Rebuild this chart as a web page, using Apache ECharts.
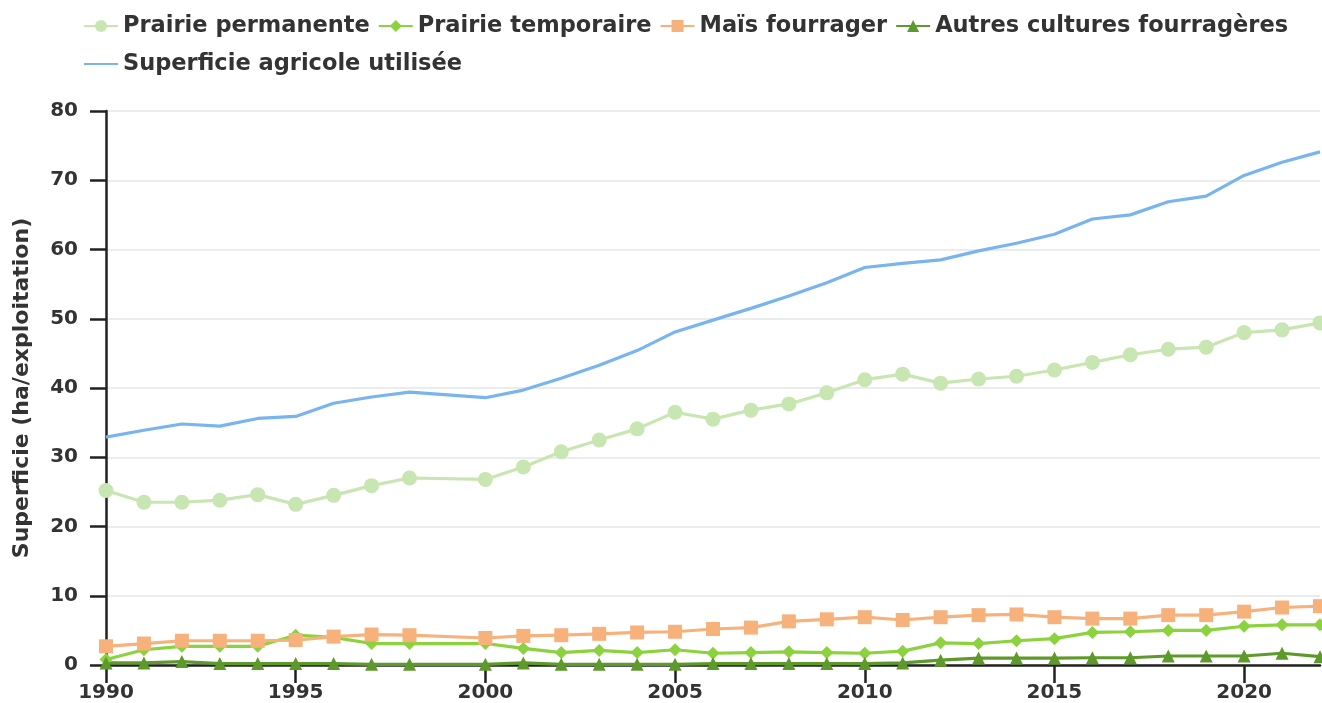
<!DOCTYPE html>
<html>
<head>
<meta charset="utf-8">
<script src="https://cdn.jsdelivr.net/npm/echarts@6/dist/echarts.min.js"></script>
<style>
	html, body { margin: 0; padding: 0; background: #fff; }
	#draw { width: 1322px; height: 703px; }
</style>
</head>
<body>
<div id="draw"></div>
<script>
	// annees (1999 absente)
	var annees = [1990, 1991, 1992, 1993, 1994, 1995, 1996, 1997, 1998,
		2000, 2001, 2002, 2003, 2004, 2005, 2006, 2007, 2008, 2009, 2010,
		2011, 2012, 2013, 2014, 2015, 2016, 2017, 2018, 2019, 2020, 2021, 2022];

	var prairiePermanente = [25.2, 23.5, 23.5, 23.8, 24.6, 23.2, 24.5, 25.9, 27.0,
		26.8, 28.6, 30.8, 32.5, 34.1, 36.5, 35.5, 36.8, 37.7, 39.3, 41.2,
		42.0, 40.7, 41.3, 41.7, 42.6, 43.7, 44.8, 45.6, 45.9, 48.0, 48.4, 49.4];

	var prairieTemporaire = [0.8, 2.2, 2.7, 2.7, 2.7, 4.3, 4.0, 3.1, 3.1,
		3.1, 2.4, 1.8, 2.1, 1.8, 2.2, 1.7, 1.8, 1.9, 1.8, 1.7,
		2.0, 3.2, 3.1, 3.5, 3.8, 4.7, 4.8, 5.0, 5.0, 5.6, 5.8, 5.8];

	var maisFourrager = [2.7, 3.1, 3.5, 3.5, 3.5, 3.6, 4.1, 4.4, 4.3,
		3.9, 4.2, 4.3, 4.5, 4.7, 4.8, 5.2, 5.4, 6.3, 6.6, 6.9,
		6.5, 6.9, 7.2, 7.3, 6.9, 6.7, 6.7, 7.2, 7.2, 7.7, 8.3, 8.5];

	var autresCultures = [0.3, 0.3, 0.5, 0.2, 0.2, 0.2, 0.2, 0.1, 0.1,
		0.1, 0.3, 0.1, 0.1, 0.1, 0.1, 0.2, 0.2, 0.2, 0.2, 0.2,
		0.3, 0.7, 1.0, 1.0, 1.0, 1.05, 1.05, 1.3, 1.3, 1.3, 1.7, 1.2];

	var sau = [32.9, 33.9, 34.8, 34.5, 35.6, 35.9, 37.8, 38.7, 39.4,
		38.6, 39.7, 41.4, 43.3, 45.4, 48.1, 49.8, 51.5, 53.3, 55.2, 57.4,
		58.0, 58.5, 59.8, 60.9, 62.2, 64.4, 65.0, 66.9, 67.7, 70.7, 72.6, 74.1];

	function paires(valeurs) {
		return annees.map(function (a, i) { return [a, valeurs[i]]; });
	}

	function serie(nom, valeurs, couleur, symbole, taille) {
		return {
			name: nom,
			type: 'line',
			data: paires(valeurs),
			symbol: symbole,
			symbolSize: taille,
			showSymbol: symbole !== 'none',
			lineStyle: { color: couleur, width: 3.2 },
			itemStyle: { color: couleur },
			emphasis: { disabled: true }
		};
	}

	var police = 'DejaVu Sans';
	var myChart = echarts.init(document.getElementById('draw'));
	myChart.setOption({
		animation: false,
		textStyle: { fontFamily: police },
		grid: {
			left: 106,
			right: 2,
			top: 111,
			bottom: 38
		},
		legend: {
			left: 78,
			top: 6,
			width: 1240,
			itemWidth: 34,
			itemHeight: 15,
			itemGap: 8,
			textStyle: {
				color: '#333',
				fontSize: 22.5,
				lineHeight: 30,
				fontWeight: 'bold',
				fontFamily: police
			},
			data: ['Prairie permanente', 'Prairie temporaire', 'Maïs fourrager',
				'Autres cultures fourragères',
				{ name: 'Superficie agricole utilisée', itemStyle: { opacity: 0 } }]
		},
		xAxis: {
			type: 'value',
			min: 1990,
			max: 2022,
			interval: 5,
			axisLine: { show: true, lineStyle: { color: '#222', width: 2.5 } },
			axisTick: { show: true, length: 18, lineStyle: { color: '#222', width: 2.5 } },
			axisLabel: {
				color: '#333',
				fontSize: 20,
				fontWeight: 'bold',
				margin: 18,
				showMaxLabel: false,
				formatter: function (v) { return String(v); }
			},
			splitLine: { show: false }
		},
		yAxis: {
			type: 'value',
			min: 0,
			max: 80,
			interval: 10,
			name: 'Superficie (ha/exploitation)',
			nameLocation: 'middle',
			nameGap: 73,
			nameTextStyle: {
				color: '#333',
				fontSize: 22,
				fontWeight: 'bold'
			},
			axisLine: { show: true, lineStyle: { color: '#222', width: 2.5 } },
			axisTick: { show: true, length: 16, lineStyle: { color: '#222', width: 2.5 } },
			axisLabel: {
				color: '#333',
				fontSize: 20,
				fontWeight: 'bold',
				margin: 28
			},
			splitLine: { lineStyle: { color: '#e6e6e6', width: 1.5 } }
		},
		series: [
			serie('Prairie permanente', prairiePermanente, '#c8e6b1', 'circle', 15),
			serie('Prairie temporaire', prairieTemporaire, '#8cd23e', 'diamond', 13),
			serie('Maïs fourrager', maisFourrager, '#f7b27c', 'rect', 14),
			serie('Autres cultures fourragères', autresCultures, '#5e9a2b', 'triangle', 13),
			serie('Superficie agricole utilisée', sau, '#78b4ee', 'none', 0)
		]
	});
</script>
</body>
</html>
